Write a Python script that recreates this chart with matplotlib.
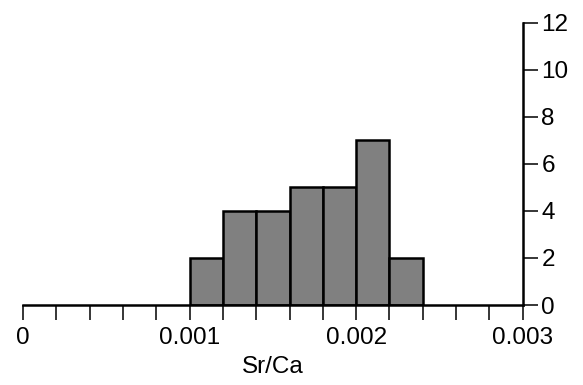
import matplotlib
matplotlib.use("Agg")
import matplotlib.pyplot as plt
import numpy as np

plt.rcParams['font.family'] = ['Liberation Sans', 'DejaVu Sans']

bin_edges = [0.0010, 0.0012, 0.0014, 0.0016, 0.0018, 0.0020, 0.0022, 0.0024]
counts = [2, 4, 4, 5, 5, 7, 2]
x_ticks = [0, 0.001, 0.002, 0.003]
x_tick_labels = ['0', '0.001', '0.002', '0.003']
y_ticks = [0, 2, 4, 6, 8, 10, 12]

fig = plt.figure(figsize=(5.83, 3.85), dpi=100)
ax = fig.add_axes([23/583, 1-305/385, (522.7-23)/583, (305-22.7)/385])

lefts = bin_edges[:-1]
widths = np.diff(bin_edges)
ax.bar(lefts, counts, width=widths, align='edge', color='#808080',
       edgecolor='black', linewidth=1.8, zorder=2)

ax.set_xlim(0, 0.003)
ax.set_ylim(0, 12)

for s in ['top', 'left']:
    ax.spines[s].set_visible(False)
ax.spines['bottom'].set_linewidth(1.8)
ax.spines['right'].set_linewidth(1.8)
ax.spines['bottom'].set_zorder(3)

ax.set_xticks(x_ticks)
ax.set_xticklabels(x_tick_labels)
ax.set_xticks(np.arange(0, 0.0031, 0.0002), minor=True)
ax.tick_params(axis='x', which='both', direction='out', length=11, width=1.1,
               labelsize=17.5, pad=5)

ax.yaxis.tick_right()
ax.set_yticks(y_ticks)
ax.tick_params(axis='y', which='both', direction='out', length=11, width=1.1,
               labelsize=17.5, pad=2.5, left=False, right=True)

ax.set_xlabel('Sr/Ca', fontsize=17.5, labelpad=5)

fig.savefig('out.png', dpi=100)
